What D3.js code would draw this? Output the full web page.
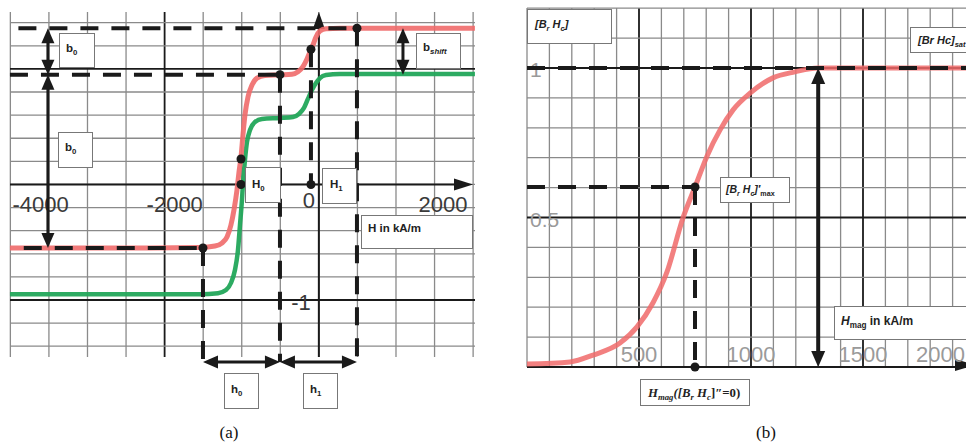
<!DOCTYPE html>
<html><head><meta charset="utf-8">
<script src="https://cdn.jsdelivr.net/npm/d3@7"></script>
<style>body{margin:0;background:#fff} svg{display:block}</style>
</head><body>
<svg id="chart" width="966" height="443"></svg>
<script>
// ---------------- Panel (a) data ----------------
const redCurveA = [[-4606,-0.55],[-2518,-0.55],[-1773,-0.546],[-1549,-0.533],[-1445,-0.507],[-1370,-0.455],[-1311,-0.351],[-1266,-0.221],[-1221,-0.048],[-1191,0.107],[-1161,0.238],[-1132,0.428],[-1102,0.601],[-1057,0.757],[-997,0.86],[-923,0.921],[-804,0.943],[-580,0.948],[-401,0.953],[-312,0.975],[-237,1.02],[-177,1.086],[-133,1.147],[-88,1.207],[-43,1.276],[16,1.328],[106,1.348],[315,1.352],[2327,1.352]];
const greenCurveA = [[-4606,-0.95],[-1773,-0.95],[-1504,-0.941],[-1385,-0.914],[-1311,-0.853],[-1251,-0.74],[-1206,-0.567],[-1176,-0.351],[-1147,-0.135],[-1132,0.004],[-1102,0.212],[-1072,0.367],[-1027,0.471],[-953,0.54],[-848,0.566],[-580,0.575],[-386,0.584],[-297,0.61],[-222,0.662],[-163,0.74],[-103,0.818],[-43,0.878],[16,0.921],[106,0.947],[315,0.956],[2327,0.956]];
const xTickValuesA = [-4000,-2000,0,2000];
const xTickLabelsA = ["-4000","-2000","0","2000"];
const yTickValuesA = [-1];
const yTickLabelsA = ["-1"];
const gridHA = d3.range(-8,5).map(k=>k*575);          // vertical grid lines (kA/m)
const gridBA = d3.range(-7,8).map(k=>k*0.2);          // horizontal grid lines
const dashedA = [[-4480,1.352,568,1.352],[-4606,0.95,-580,0.95],[-4400,-0.55,-1728,-0.55],
                 [-1728,-0.55,-1728,-1.537],[-580,0.95,-580,-1.537],[-118,1.17,-118,0],[568,1.352,568,-1.537]];
const dotsA = [[-1728,-0.55],[-580,0.95],[-118,1.17],[568,1.352],[-1161,0.22],[-1161,0],[-118,0]];
const arrowsA = [[-4040,1.352,-4040,0.95],[-4040,0.95,-4040,-0.55],[1254,1.352,1254,0.95],
                 [-1728,-1.537,-580,-1.537],[-580,-1.537,568,-1.537]];

// ---------------- Panel (b) data ----------------
const curveB = [[0,0.01],[192,0.017],[295,0.04],[415,0.08],[491,0.134],[562,0.214],[625,0.318],[696,0.498],[750,0.602],[804,0.706],[862,0.793],[920,0.86],[996,0.916],[1098,0.967],[1196,0.987],[1299,1.0],[1960,1.0]];
const xTickValuesB = [500,1000,1500,2000];
const xTickLabelsB = ["500","1000","1500","2000"];
const yTickValuesB = [0.5,1];
const yTickLabelsB = ["0.5","1"];
const gridHB = d3.range(0,20).map(k=>k*100);
const gridBB = d3.range(0,13).map(k=>k*0.1);
const dashedB = [[0,1,2000,1],[0,0.602,750,0.602],[750,0.602,750,0]];
const dotsB = [[750,0.602],[750,0]];
const arrowsB = [[1300,1,1300,0]];

// ---------------- scales ----------------
const xA = d3.scaleLinear().domain([-4000,2000]).range([50.6,453]);
const yA = d3.scaleLinear().domain([-1,1]).range([300,68.9]);
const xB = d3.scaleLinear().domain([0,2000]).range([527,975]);
const yB = d3.scaleLinear().domain([0,1]).range([367,68]);

const svg = d3.select("#chart");
const GRID = "#8a8a8a", DARK = "#1a1a1a", RED = "#f06a6a", GREEN = "#22a65a";

function head(g, x, y, ang, len, hw){
  const c=Math.cos(ang), s=Math.sin(ang);
  const bx=x-c*len, by=y-s*len;
  g.append("path").attr("d",`M${x},${y}L${bx-s*hw},${by+c*hw}L${bx+s*hw},${by-c*hw}Z`).attr("fill",DARK);
}
function dblArrow(g,x1,y1,x2,y2,w,len,hw){
  const ang=Math.atan2(y2-y1,x2-x1), c=Math.cos(ang), s=Math.sin(ang);
  g.append("line").attr("x1",x1+c*len*0.6).attr("y1",y1+s*len*0.6).attr("x2",x2-c*len*0.6).attr("y2",y2-s*len*0.6)
    .attr("stroke",DARK).attr("stroke-width",w);
  head(g,x2,y2,ang,len,hw); head(g,x1,y1,ang+Math.PI,len,hw);
}
function label(g, spec, font, size, italic){
  g.append("rect").attr("x",spec.x+0.5).attr("y",spec.y+0.5).attr("width",spec.w).attr("height",spec.h)
    .attr("fill","#fff").attr("stroke","#777").attr("stroke-width",1);
  const t=g.append("text").attr("x",spec.tx).attr("y",spec.ty).attr("font-family",font)
    .attr("font-size",size).attr("font-weight","bold").attr("fill","#222");
  let shifted=0;
  spec.parts.forEach(p=>{
    const ts=t.append("tspan").text(p[0]);
    const isSub = p[1]==="sub";
    const it = p[2]==="i" || (italic && p[2]!=="n");
    if(it) ts.attr("font-style","italic");
    if(isSub){ ts.attr("font-size",size*0.68).attr("dy",3-shifted); shifted=3; }
    else if(shifted){ ts.attr("dy",-shifted); shifted=0; }
  });
}

// ================= Panel (a) =================
const gA = svg.append("g");
gridHA.forEach(h=>{
  gA.append("line").attr("x1",xA(h)).attr("x2",xA(h)).attr("y1",12).attr("y2",357)
    .attr("stroke",(h===-2300)?DARK:GRID).attr("stroke-width",(h===-2300)?1.8:1.3);
});
gridBA.forEach(b=>{
  const major = Math.abs(Math.abs(b)-1)<1e-6;
  gA.append("line").attr("x1",10).attr("x2",475).attr("y1",yA(b)).attr("y2",yA(b))
    .attr("stroke",major?DARK:GRID).attr("stroke-width",major?1.8:1.3);
});
// axes
gA.append("line").attr("x1",10).attr("x2",462).attr("y1",yA(0)).attr("y2",yA(0)).attr("stroke",DARK).attr("stroke-width",2);
head(gA,473,yA(0),0,19,6);
gA.append("line").attr("x1",xA(0)).attr("x2",xA(0)).attr("y1",357).attr("y2",22).attr("stroke",DARK).attr("stroke-width",2);
head(gA,xA(0),12,-Math.PI/2,17,6);
// tick labels
xTickValuesA.forEach((v,i)=>{
  gA.append("text").attr("x",xA(v)-10).attr("y",v===0?208:212).attr("text-anchor","middle")
    .attr("font-family","Liberation Sans, Arial, sans-serif").attr("font-size",22).attr("fill","#3a3a3a").text(xTickLabelsA[i]);
});
yTickValuesA.forEach((v,i)=>{
  gA.append("text").attr("x",xA(0)-8).attr("y",yA(v)+10).attr("text-anchor","end")
    .attr("font-family","Liberation Sans, Arial, sans-serif").attr("font-size",22).attr("fill","#3a3a3a").text(yTickLabelsA[i]);
});
// curves
const lineA = d3.line().x(d=>xA(d[0])).y(d=>yA(d[1])).curve(d3.curveMonotoneX);
gA.append("path").datum(greenCurveA).attr("d",lineA).attr("fill","none").attr("stroke",GREEN).attr("stroke-width",4.5).attr("stroke-opacity",0.95);
gA.append("path").datum(redCurveA).attr("d",lineA).attr("fill","none").attr("stroke",RED).attr("stroke-width",5).attr("stroke-opacity",0.9);
// dashed
dashedA.forEach(d=>{
  gA.append("line").attr("x1",xA(d[0])).attr("y1",yA(d[1])).attr("x2",xA(d[2])).attr("y2",yA(d[3]))
    .attr("stroke",DARK).attr("stroke-width",4).attr("stroke-dasharray","18,13");
});
arrowsA.forEach(d=>dblArrow(gA,xA(d[0]),yA(d[1]),xA(d[2]),yA(d[3]),3,15,6.5));
dotsA.forEach(d=>gA.append("circle").attr("cx",xA(d[0])).attr("cy",yA(d[1])).attr("r",4.5).attr("fill",DARK));
// labels
const FA="Liberation Sans, Arial, sans-serif";
[
 {x:59,y:33,w:35,h:34,tx:66,ty:52,parts:[["b"],["0","sub"]]},
 {x:58,y:132,w:34,h:35,tx:65,ty:151,parts:[["b"],["0","sub"]]},
 {x:416,y:33,w:44,h:35,tx:423,ty:51,parts:[["b"],["shift","sub","i"]]},
 {x:245,y:167,w:35,h:35,tx:252,ty:188,parts:[["H"],["0","sub"]]},
 {x:322,y:168,w:34,h:35,tx:330,ty:188,parts:[["H"],["1","sub"]]},
 {x:361,y:215,w:111,h:33,tx:368,ty:232,parts:[["H in kA/m"]]},
 {x:224,y:373,w:34,h:35,tx:231,ty:393,parts:[["h"],["0","sub"]]},
 {x:303,y:373,w:34,h:35,tx:310,ty:393,parts:[["h"],["1","sub"]]}
].forEach(s=>label(gA,s,FA,11.5,false));

// ================= Panel (b) =================
const gB = svg.append("g");
gridHB.forEach(h=>{
  const major = h>0 && h%500===0;
  gB.append("line").attr("x1",xB(h)).attr("x2",xB(h)).attr("y1",8).attr("y2",367)
    .attr("stroke",major?DARK:GRID).attr("stroke-width",major?1.8:1.3);
});
gridBB.forEach(b=>{
  const major = Math.abs(b-0.5)<1e-6 || Math.abs(b-1)<1e-6;
  gB.append("line").attr("x1",527).attr("x2",966).attr("y1",yB(b)).attr("y2",yB(b))
    .attr("stroke",major?DARK:GRID).attr("stroke-width",major?1.8:1.3);
});
gB.append("line").attr("x1",527).attr("x2",966).attr("y1",yB(0)).attr("y2",yB(0)).attr("stroke",DARK).attr("stroke-width",2);
head(gB,975,yB(0)-2,0,20,6);
xTickValuesB.forEach((v,i)=>{
  const last = i===xTickValuesB.length-1;
  gB.append("text").attr("x",last?965:xB(v)).attr("y",362).attr("text-anchor",last?"end":"middle")
    .attr("font-family","Liberation Sans, Arial, sans-serif").attr("font-size",22).attr("fill","#9a9a9a").text(xTickLabelsB[i]);
});
yTickValuesB.forEach((v,i)=>{
  gB.append("text").attr("x",530).attr("y",yB(v)+9).attr("text-anchor","start")
    .attr("font-family","Liberation Sans, Arial, sans-serif").attr("font-size",21).attr("fill","#9a9a9a").text(yTickLabelsB[i]);
});
const lineB = d3.line().x(d=>xB(d[0])).y(d=>yB(d[1])).curve(d3.curveMonotoneX);
gB.append("path").datum(curveB).attr("d",lineB).attr("fill","none").attr("stroke",RED).attr("stroke-width",5).attr("stroke-opacity",0.85);
dashedB.forEach(d=>{
  gB.append("line").attr("x1",xB(d[0])).attr("y1",yB(d[1])).attr("x2",xB(d[2])).attr("y2",yB(d[3]))
    .attr("stroke",DARK).attr("stroke-width",4).attr("stroke-dasharray","18,13");
});
arrowsB.forEach(d=>dblArrow(gB,xB(d[0]),yB(d[1]),xB(d[2]),yB(d[3]),4,16,7));
dotsB.forEach(d=>gB.append("circle").attr("cx",xB(d[0])).attr("cy",yB(d[1])).attr("r",4.5).attr("fill",DARK));
const FB="Liberation Sans, Arial, sans-serif";
label(gB,{x:527,y:9,w:84,h:34,tx:535,ty:28,parts:[["[B"],["r","sub"],[" H"],["c","sub"],["]"]]},FB,11,true);
label(gB,{x:910,y:27,w:70,h:25,tx:918,ty:44,parts:[["[Br Hc]"],["sat","sub"]]},FB,11,true);
label(gB,{x:720,y:177,w:69,h:25,tx:726,ty:193,parts:[["[B"],["r","sub"],[" H"],["c","sub"],["]\u2032"],["max","sub","n"]]},FB,10.5,true);
label(gB,{x:834,y:306,w:140,h:33,tx:841,ty:325,parts:[["H","","i"],["mag","sub"],[" in kA/m"]]},FB,12,false);
label(gB,{x:640,y:379,w:109,h:26,tx:648,ty:397,parts:[["H"],["mag","sub"],["([B"],["r","sub"],[" H"],["c","sub"],["]\u2033=0)","","n"]]},"Liberation Serif, Times New Roman, serif",12.8,true);

// captions
svg.append("text").attr("x",229).attr("y",438).attr("text-anchor","middle").attr("font-family","Liberation Serif, Times New Roman, serif").attr("font-size",17).attr("fill","#111").text("(a)");
svg.append("text").attr("x",766).attr("y",438).attr("text-anchor","middle").attr("font-family","Liberation Serif, Times New Roman, serif").attr("font-size",17).attr("fill","#111").text("(b)");
</script>
</body></html>
